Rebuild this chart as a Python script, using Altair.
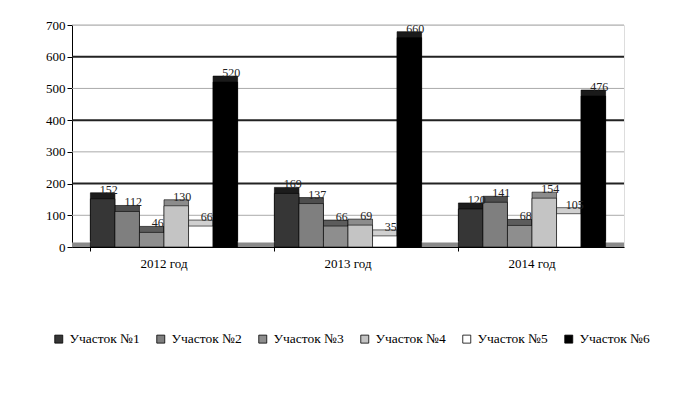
import altair as alt
import pandas as pd

years = ["2012 год", "2013 год", "2014 год"]
series = ["Участок №1", "Участок №2", "Участок №3", "Участок №4", "Участок №5", "Участок №6"]
values = {
    "Участок №1": [152, 169, 120],
    "Участок №2": [112, 137, 141],
    "Участок №3": [46, 66, 68],
    "Участок №4": [130, 69, 154],
    "Участок №5": [66, 35, 105],
    "Участок №6": [520, 660, 476],
}
front_colors = ["#363636", "#7f7f7f", "#8e8e8e", "#c4c4c4", "#ffffff", "#000000"]
side_colors = ["#1c1c1c", "#4e4e4e", "#5c5c5c", "#8c8c8c", "#d0d0d0", "#1a1a1a"]
grid_values = [100, 200, 300, 400, 500, 600, 700]
y_ticks = [0, 100, 200, 300, 400, 500, 600, 700]

rows = []
for s in series:
    for y, v in zip(years, values[s]):
        rows.append({"year": y, "series": s, "value": v})
df = pd.DataFrame(rows)
grid_df = pd.DataFrame({"value": grid_values, "major": [v % 200 == 0 for v in grid_values]})

FONT = "Liberation Serif, Times New Roman, serif"

yscale = alt.Scale(domain=[0, 700])
yaxis = alt.Axis(title=None, values=y_ticks, grid=False, labelFontSize=13, labelFont=FONT,
                 labelColor="#000", labelOverlap=False, labelPadding=2,
                 domainColor="#000", tickColor="#000", tickSize=5)
xenc = alt.X("year:N", sort=years, scale=alt.Scale(paddingInner=0.2, paddingOuter=0.1),
             axis=alt.Axis(title=None, labelAngle=0, labelFontSize=13, labelFont=FONT,
                           labelColor="#000", domainColor="#000", tickColor="#000",
                           bandPosition=0, labelPadding=6, tickSize=4))
yenc = alt.Y("value:Q", scale=yscale, axis=yaxis)
xoff = alt.XOffset("series:N", sort=series, scale=alt.Scale(paddingInner=0, paddingOuter=0))

grid = alt.Chart(grid_df).mark_rule().encode(
    y=alt.Y("value:Q", scale=yscale, axis=yaxis),
    color=alt.condition("datum.major", alt.value("#222222"), alt.value("#aaaaaa")),
    strokeWidth=alt.condition("datum.major", alt.value(2), alt.value(1)),
)

floor = alt.Chart(pd.DataFrame({"value": [0], "b": [14]})).mark_rect(color="#8a8a8a").encode(
    y=alt.Y("value:Q", scale=yscale, axis=yaxis), y2="b:Q", x=alt.value(0), x2=alt.value(552)
)

side = alt.Chart(df).mark_bar(xOffset=7, yOffset=-6, stroke="#000", strokeWidth=0.6).encode(
    x=xenc, xOffset=xoff, y=yenc,
    color=alt.Color("series:N", sort=series, scale=alt.Scale(domain=series, range=side_colors), legend=None),
)

front = alt.Chart(df).mark_bar(stroke="#000", strokeWidth=0.6).encode(
    x=xenc, xOffset=xoff, y=yenc,
    color=alt.Color("series:N", sort=series, scale=alt.Scale(domain=series, range=front_colors),
                    legend=alt.Legend(title=None, orient="none", direction="horizontal",
                                      legendX=-20, legendY=307, columns=6,
                                      symbolType="square", symbolSize=64, symbolStrokeColor="#000",
                                      symbolStrokeWidth=0.8, labelFont=FONT, labelFontSize=13.5,
                                      labelColor="#000", columnPadding=14, labelLimit=200)),
)

labels = alt.Chart(df).mark_text(font=FONT, fontSize=12, dx=6, dy=-9).encode(
    x=xenc, xOffset=xoff, y=yenc, text="value:Q", color=alt.value("#222222")
)

chart = alt.layer(grid, floor, side, front, labels).resolve_scale(color="independent").properties(
    width=552, height=222,
    autosize=alt.AutoSizeParams(type="none"),
    padding={"left": 64, "top": 17, "right": 50, "bottom": 141},
).configure_view(stroke="#999999", strokeWidth=1).configure(font=FONT)

chart.save("out.html", embed_options={"renderer": "svg", "actions": False})
